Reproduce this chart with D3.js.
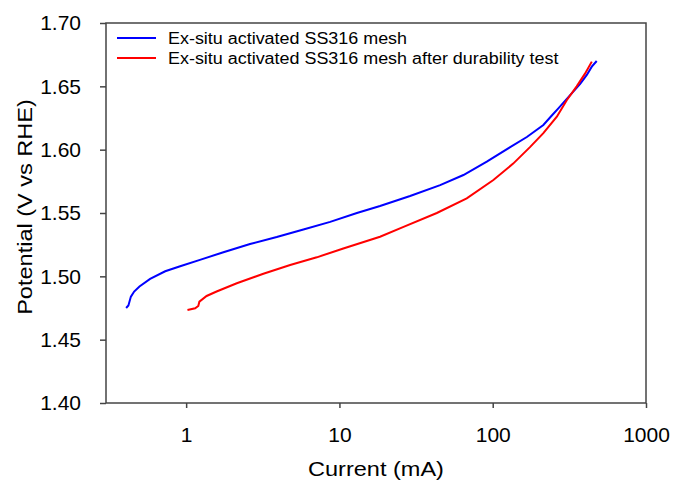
<!DOCTYPE html>
<html>
<head>
<meta charset="utf-8">
<script src="https://cdn.jsdelivr.net/npm/d3@7"></script>
<style>
  body { margin: 0; background: #fff; }
  svg { font-family: "Liberation Sans", Arial, sans-serif; }
</style>
</head>
<body>
<svg width="676" height="486"></svg>
<script>
// values: current (mA), potential (V vs RHE)
const freshCurrent = [0.406, 0.42, 0.436, 0.458, 0.496, 0.582, 0.73, 0.914, 1.23, 1.75, 2.61, 3.9, 5.82, 8.7, 13.0, 18.4,
                      28.9, 45.4, 64.4, 91.5, 130, 167, 214, 243, 268, 320, 372, 411, 443, 477];
const freshPotential = [1.475, 1.477, 1.484, 1.488, 1.492, 1.498, 1.504, 1.508, 1.513, 1.519, 1.5255, 1.531, 1.537, 1.543, 1.550, 1.5555,
                        1.5634, 1.572, 1.580, 1.5905, 1.602, 1.610, 1.6195, 1.627, 1.6326, 1.643, 1.652, 1.659, 1.6655, 1.670];

const usedCurrent = [1.02, 1.145, 1.2, 1.22, 1.36, 1.58, 2.14, 3.19, 4.77, 7.12, 10.6, 18.4,
                     26.2, 43.2, 67.7, 101, 136, 175, 214, 262, 304, 353, 400, 443];
const usedPotential = [1.4734, 1.4748, 1.4766, 1.480, 1.4845, 1.488, 1.4945, 1.502, 1.509, 1.515, 1.522, 1.5313,
                       1.539, 1.550, 1.5616, 1.576, 1.589, 1.602, 1.613, 1.626, 1.639, 1.650, 1.660, 1.6695];

const seriesNames = ["Ex-situ activated SS316 mesh", "Ex-situ activated SS316 mesh after durability test"];
const seriesColors = ["#0000ff", "#ff0000"];
const xTicks = [1, 10, 100, 1000];
const yTicks = [1.40, 1.45, 1.50, 1.55, 1.60, 1.65, 1.70];

const series = [
  freshCurrent.map((c, i) => ({x: c, y: freshPotential[i]})),
  usedCurrent.map((c, i) => ({x: c, y: usedPotential[i]}))
];

const plotLeft = 106, plotRight = 646, plotTop = 23, plotBottom = 403;
const axisColor = "#444";
const stretch = 1.12; // titles and legend look a bit wider than plain Arial

const svg = d3.select("svg");

// widen a text element along its own direction
function widen(sel) {
  sel.each(function() {
    const len = this.getComputedTextLength();
    d3.select(this)
      .attr("textLength", len * stretch)
      .attr("lengthAdjust", "spacingAndGlyphs");
  });
}

const x = d3.scaleLog()
  .domain([0.3, 1000])
  .range([plotLeft, plotRight]);

const y = d3.scaleLinear()
  .domain([1.40, 1.70])
  .range([plotBottom, plotTop]);

// frame
svg.append("rect")
  .attr("x", plotLeft).attr("y", plotTop)
  .attr("width", plotRight - plotLeft).attr("height", plotBottom - plotTop)
  .attr("fill", "none")
  .attr("stroke", axisColor)
  .attr("stroke-width", 1.5);

// X axis
const xAxis = svg.append("g")
  .attr("transform", `translate(0, ${plotBottom})`)
  .call(d3.axisBottom(x).tickValues(xTicks).tickFormat(d3.format("d")).tickSize(5).tickPadding(19))
xAxis.select(".domain").remove();
xAxis.selectAll("line").attr("stroke", axisColor).attr("stroke-width", 1.5);
xAxis.selectAll("text").attr("font-size", "21px").attr("fill", "#000")
  .attr("font-family", "Liberation Sans, Arial, sans-serif");

// Y axis
const yAxis = svg.append("g")
  .attr("transform", `translate(${plotLeft}, 0)`)
  .call(d3.axisLeft(y).tickValues(yTicks).tickFormat(d3.format(".2f")).tickSize(6).tickPadding(19))
yAxis.select(".domain").remove();
yAxis.selectAll("line").attr("stroke", axisColor).attr("stroke-width", 1.5);
yAxis.selectAll("text").attr("font-size", "21px").attr("fill", "#000")
  .attr("font-family", "Liberation Sans, Arial, sans-serif");

// axis titles
svg.append("text")
  .attr("x", (plotLeft + plotRight) / 2)
  .attr("y", 476)
  .attr("text-anchor", "middle")
  .attr("font-size", "21px")
  .text("Current (mA)")
  .call(widen);

svg.append("text")
  .attr("transform", `translate(32, 207) rotate(-90)`)
  .attr("text-anchor", "middle")
  .attr("font-size", "21px")
  .text("Potential (V vs RHE)")
  .call(widen);

// curves
const line = d3.line()
  .x(d => x(d.x))
  .y(d => y(d.y));

svg.selectAll(".curve")
  .data(series)
  .enter().append("path")
  .attr("class", "curve")
  .attr("d", line)
  .attr("fill", "none")
  .attr("stroke", (d, i) => seriesColors[i])
  .attr("stroke-width", 2);

// legend
const legend = svg.selectAll(".legend")
  .data(seriesNames)
  .enter().append("g")
  .attr("class", "legend")
  .attr("transform", (d, i) => `translate(117, ${38 + i * 20})`);

legend.append("line")
  .attr("x1", 0).attr("x2", 39)
  .attr("stroke", (d, i) => seriesColors[i])
  .attr("stroke-width", 2);

legend.append("text")
  .attr("x", 51)
  .attr("dy", "0.35em")
  .attr("font-size", "16px")
  .text(d => d)
  .call(widen);
</script>
</body>
</html>
